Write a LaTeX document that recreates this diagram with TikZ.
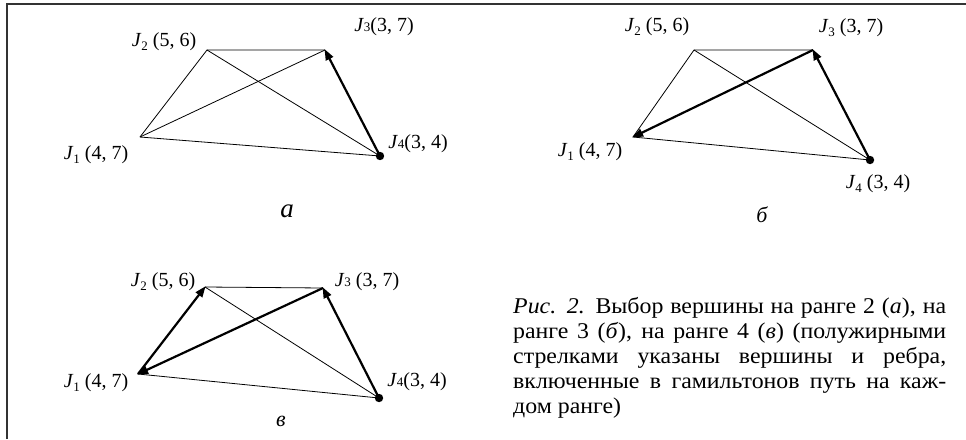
\documentclass[tikz,border=0pt]{standalone}
\usepackage{fontspec}
\setmainfont{Liberation Serif}
\newfontfamily\capfont{Liberation Serif}[FakeStretch=1.06]
\usetikzlibrary{arrows.meta}
\newcommand{\Jl}[1]{\textit{J}\raisebox{-0.35ex}{\fontsize{13}{13}\selectfont #1}}
\newcommand{\Jb}[1]{\textit{J}{\fontsize{13}{13}\selectfont #1}}
\begin{document}
\begin{tikzpicture}[x=1pt,y=-1pt,
  thin edge/.style={line width=0.8pt},
  path edge/.style={line width=2.2pt,-{Triangle[length=11pt,width=8pt]},shorten >=-1pt},
  lbl/.style={inner sep=0pt,font=\fontsize{20}{20}\selectfont},
  sub/.style={inner sep=0pt,font=\fontsize{22}{22}\selectfont\itshape},
  capline/.style={inner sep=0pt,anchor=base west,font=\capfont\fontsize{22.5}{25}\selectfont}]
\useasboundingbox (0,0) rectangle (966,439);
\draw[line width=2pt,black!80] (7,439) -- (7,4) -- (966,4);
% panel a
\coordinate (a1) at (140,137);
\coordinate (a2) at (207,50);
\coordinate (a3) at (325,50);
\coordinate (a4) at (380,156);
\draw[thin edge] (a1) -- (a2) -- (a3);
\draw[thin edge] (a1) -- (a3);
\draw[thin edge] (a2) -- (a4);
\draw[thin edge] (a1) -- (a4);
\draw[path edge] (a4) -- (a3);
\fill (a4) circle (4.2);
\node[lbl] (la1) at (96,155) {\Jl{1} (4, 7)};
\node[lbl] (la2) at (164,42) {\Jl{2} (5, 6)};
\node[lbl] (la3) at (384,27) {\Jb{3}(3, 7)};
\node[lbl] (la4) at (418,144) {\Jb{4}(3, 4)};
\node[sub,font=\fontsize{27}{27}\selectfont\itshape] (sa) at (287,211) {a};
% panel b
\coordinate (b1) at (633,137);
\coordinate (b2) at (694,50);
\coordinate (b3) at (813,50);
\coordinate (b4) at (870,160);
\draw[thin edge] (b1) -- (b2) -- (b3);
\draw[thin edge] (b2) -- (b4);
\draw[thin edge] (b1) -- (b4);
\draw[path edge] (b4) -- (b3);
\draw[path edge] (b3) -- (b1);
\fill (b4) circle (4.2);
\node[lbl] (lb1) at (590,152) {\Jl{1} (4, 7)};
\node[lbl] (lb2) at (657,27) {\Jl{2} (5, 6)};
\node[lbl] (lb3) at (851,28) {\Jl{3} (3, 7)};
\node[lbl] (lb4) at (878,184) {\Jl{4} (3, 4)};
\node[sub] (sb) at (762,215) {б};
% panel c
\coordinate (c1) at (138,374);
\coordinate (c2) at (205,287);
\coordinate (c3) at (323,288);
\coordinate (c4) at (379,398);
\draw[thin edge] (c2) -- (c3);
\draw[thin edge] (c2) -- (c4);
\draw[thin edge] (c1) -- (c4);
\draw[path edge] (c4) -- (c3);
\draw[path edge] (c3) -- (c1);
\draw[path edge] (c1) -- (c2);
\fill (c4) circle (4.2);
\node[lbl] (lc1) at (96,383) {\Jl{1} (4, 7)};
\node[lbl] (lc2) at (163,282) {\Jl{2} (5, 6)};
\node[lbl] (lc3) at (367,282) {\Jb{3} (3, 7)};
\node[lbl] (lc4) at (417,382) {\Jb{4}(3, 4)};
\node[sub] (sc) at (281,421) {в};
% caption
\node[capline] (cap1) at (513,313) {\makebox[433pt][s]{\textit{Рис. 2.} Выбор вершины на ранге 2 (\textit{а}), на}};
\node[capline] (cap2) at (513,338) {\makebox[433pt][s]{ранге 3 (\textit{б}), на ранге 4 (\textit{в}) (полужирными}};
\node[capline] (cap3) at (513,363) {\makebox[433pt][s]{стрелками указаны вершины и ребра,}};
\node[capline] (cap4) at (513,388) {\makebox[433pt][s]{включенные в гамильтонов путь на каж-}};
\node[capline] (cap5) at (513,413) {дом ранге)};
\end{tikzpicture}
\end{document}
